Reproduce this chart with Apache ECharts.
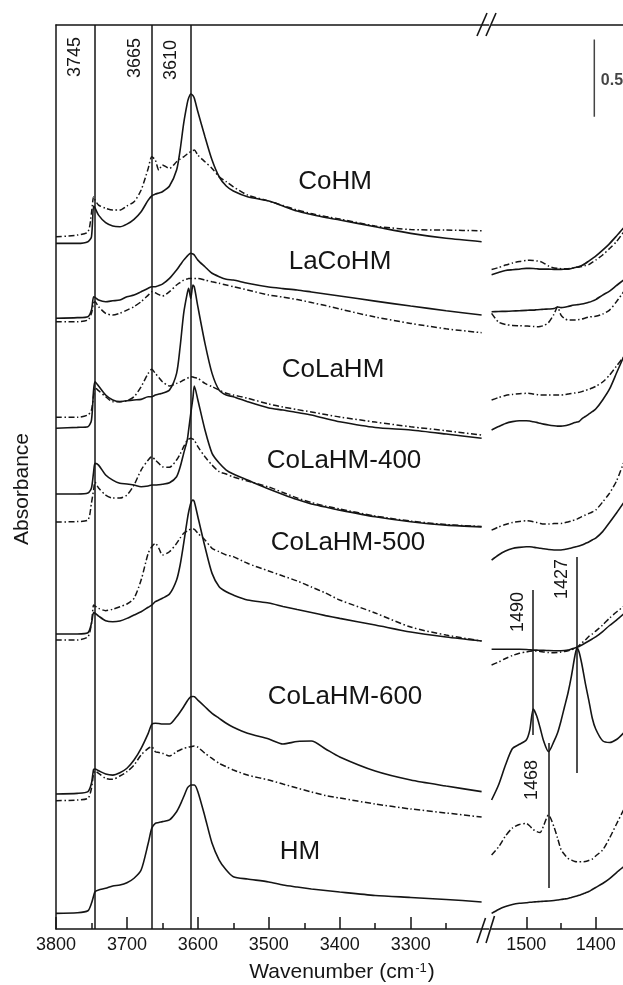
<!DOCTYPE html>
<html>
<head>
<meta charset="utf-8">
<title>IR spectra of Co/La modified mordenites</title>
<script src="https://cdn.jsdelivr.net/npm/echarts@6.0.0/dist/echarts.min.js"></script>
<style>
  html, body { margin: 0; padding: 0; background: #ffffff; }
  #chart { width: 623px; height: 985px; }
</style>
</head>
<body>
<div id="chart"></div>
<script>
// ---- Wavenumber grids (cm-1) of the two spectral windows ----
const ohWavenumbers = [3800, 3770, 3755, 3750, 3747, 3745, 3740, 3730, 3720, 3710,
  3700, 3690, 3680, 3670, 3665, 3660, 3655, 3650, 3640, 3630,
  3625, 3620, 3615, 3613, 3610, 3607, 3605, 3600, 3590, 3580,
  3570, 3560, 3550, 3530, 3500, 3480, 3460, 3440, 3420, 3400,
  3350, 3300, 3250, 3200];
const lowWavenumbers = [1550, 1540, 1530, 1520, 1510, 1500, 1495, 1490, 1485, 1480,
  1475, 1468, 1460, 1455, 1450, 1445, 1440, 1435, 1430, 1427,
  1424, 1420, 1415, 1410, 1405, 1400, 1390, 1380, 1370, 1360];

// ---- Sample names, top to bottom ----
const sampleNames = ['CoHM', 'LaCoHM', 'CoLaHM', 'CoLaHM-400', 'CoLaHM-500', 'CoLaHM-600', 'HM'];

// ---- O-H stretching region: absorbance (offset stack), solid and dash-dot traces ----
const ohCoHM = [4.432, 4.432, 4.443, 4.475, 4.674, 4.661, 4.615, 4.566, 4.544, 4.540,
  4.557, 4.588, 4.637, 4.712, 4.740, 4.751, 4.758, 4.766, 4.803, 4.906,
  5.036, 5.208, 5.337, 5.372, 5.398, 5.388, 5.370, 5.283, 5.122, 4.971,
  4.863, 4.803, 4.771, 4.734, 4.706, 4.674, 4.641, 4.619, 4.599, 4.583,
  4.540, 4.497, 4.465, 4.443];
const ohCoHMDash = [4.475, 4.486, 4.507, 4.628, 4.734, 4.712, 4.680, 4.659, 4.648, 4.648,
  4.674, 4.701, 4.777, 4.917, 4.992, 4.971, 4.906, 4.939, 4.917, 4.960,
  4.977, 4.992, 5.010, 5.016, 5.025, 5.032, 5.036, 5.003, 4.960, 4.917,
  4.863, 4.831, 4.798, 4.745, 4.706, 4.677, 4.648, 4.625, 4.606, 4.590,
  4.544, 4.522, 4.518, 4.514];
const ohLaCoHM = [3.948, 3.952, 3.958, 4.001, 4.087, 4.083, 4.066, 4.055, 4.061, 4.066,
  4.087, 4.098, 4.120, 4.142, 4.152, 4.152, 4.160, 4.169, 4.206, 4.260,
  4.292, 4.324, 4.350, 4.360, 4.368, 4.363, 4.357, 4.324, 4.281, 4.239,
  4.217, 4.200, 4.195, 4.174, 4.150, 4.140, 4.131, 4.118, 4.105, 4.092,
  4.059, 4.027, 3.997, 3.969];
const ohLaCoHMDash = [3.926, 3.926, 3.937, 3.980, 4.047, 4.055, 4.023, 3.980, 3.969, 3.980,
  4.001, 4.023, 4.055, 4.098, 4.120, 4.113, 4.101, 4.092, 4.120, 4.163,
  4.179, 4.195, 4.202, 4.205, 4.206, 4.206, 4.206, 4.206, 4.195, 4.184,
  4.174, 4.163, 4.152, 4.131, 4.098, 4.085, 4.069, 4.050, 4.030, 4.008,
  3.956, 3.915, 3.880, 3.855];
const ohCoLaHM = [3.237, 3.243, 3.247, 3.290, 3.484, 3.538, 3.510, 3.452, 3.420, 3.409,
  3.415, 3.420, 3.424, 3.441, 3.441, 3.452, 3.458, 3.463, 3.484, 3.592,
  3.764, 3.980, 4.109, 4.142, 4.077, 4.163, 4.150, 4.023, 3.786, 3.592,
  3.484, 3.452, 3.441, 3.409, 3.368, 3.355, 3.339, 3.323, 3.300, 3.279,
  3.242, 3.226, 3.200, 3.172];
const ohCoLaHMDash = [3.308, 3.308, 3.323, 3.355, 3.450, 3.500, 3.480, 3.441, 3.409, 3.409,
  3.415, 3.441, 3.506, 3.592, 3.618, 3.592, 3.565, 3.538, 3.510, 3.527,
  3.536, 3.549, 3.560, 3.565, 3.570, 3.568, 3.565, 3.560, 3.527, 3.506,
  3.484, 3.463, 3.452, 3.431, 3.394, 3.374, 3.358, 3.342, 3.326, 3.310,
  3.277, 3.247, 3.221, 3.193];
const ohCoLaHM400 = [2.812, 2.812, 2.818, 2.851, 2.954, 3.010, 2.999, 2.935, 2.902, 2.881,
  2.877, 2.870, 2.859, 2.864, 2.870, 2.870, 2.872, 2.875, 2.885, 2.924,
  2.986, 3.075, 3.161, 3.226, 3.334, 3.432, 3.510, 3.420, 3.226, 3.075,
  3.012, 2.967, 2.941, 2.902, 2.844, 2.809, 2.776, 2.747, 2.728, 2.708,
  2.665, 2.633, 2.611, 2.599];
const ohCoLaHM400Dash = [2.631, 2.634, 2.644, 2.754, 2.838, 2.889, 2.851, 2.805, 2.786, 2.786,
  2.805, 2.870, 2.967, 3.032, 3.053, 3.032, 3.010, 2.988, 2.985, 3.032,
  3.070, 3.118, 3.161, 3.167, 3.172, 3.167, 3.161, 3.118, 3.053, 2.999,
  2.956, 2.941, 2.922, 2.896, 2.857, 2.822, 2.786, 2.757, 2.734, 2.715,
  2.670, 2.637, 2.615, 2.602];
const ohCoLaHM500 = [1.907, 1.907, 1.915, 1.976, 2.045, 2.041, 2.023, 1.993, 1.986, 1.991,
  2.008, 2.030, 2.051, 2.080, 2.094, 2.116, 2.127, 2.138, 2.165, 2.256,
  2.353, 2.493, 2.644, 2.696, 2.752, 2.773, 2.762, 2.665, 2.471, 2.299,
  2.213, 2.180, 2.159, 2.127, 2.107, 2.085, 2.065, 2.046, 2.026, 2.008,
  1.965, 1.920, 1.888, 1.862];
const ohCoLaHM500Dash = [1.868, 1.868, 1.889, 1.976, 2.094, 2.088, 2.073, 2.058, 2.067, 2.083,
  2.101, 2.138, 2.256, 2.429, 2.471, 2.493, 2.461, 2.418, 2.439, 2.493,
  2.527, 2.558, 2.573, 2.579, 2.584, 2.586, 2.584, 2.558, 2.515, 2.461,
  2.439, 2.418, 2.407, 2.364, 2.314, 2.282, 2.250, 2.211, 2.172, 2.127,
  2.043, 1.952, 1.900, 1.862];
const ohCoLaHM600 = [0.873, 0.877, 0.888, 0.942, 1.032, 1.034, 1.023, 1.002, 0.995, 1.010,
  1.039, 1.092, 1.168, 1.265, 1.323, 1.330, 1.328, 1.325, 1.325, 1.372,
  1.403, 1.437, 1.474, 1.487, 1.502, 1.503, 1.502, 1.480, 1.437, 1.394,
  1.362, 1.330, 1.304, 1.265, 1.228, 1.196, 1.212, 1.215, 1.164, 1.112,
  1.021, 0.963, 0.924, 0.888];
const ohCoLaHM600Dash = [0.829, 0.834, 0.845, 0.909, 1.006, 1.021, 1.006, 0.974, 0.968, 0.989,
  1.017, 1.060, 1.125, 1.168, 1.178, 1.146, 1.141, 1.136, 1.118, 1.146,
  1.157, 1.168, 1.173, 1.176, 1.178, 1.182, 1.183, 1.175, 1.136, 1.103,
  1.071, 1.049, 1.028, 0.995, 0.963, 0.937, 0.911, 0.886, 0.863, 0.847,
  0.808, 0.776, 0.750, 0.724];
const ohHM = [0.101, 0.105, 0.118, 0.166, 0.213, 0.241, 0.252, 0.263, 0.278, 0.284,
  0.299, 0.328, 0.381, 0.554, 0.651, 0.683, 0.688, 0.694, 0.705, 0.758,
  0.802, 0.855, 0.910, 0.921, 0.931, 0.931, 0.931, 0.888, 0.726, 0.554,
  0.446, 0.381, 0.338, 0.323, 0.304, 0.284, 0.271, 0.259, 0.249, 0.239,
  0.217, 0.204, 0.191, 0.175];

// ---- 1550-1360 cm-1 region: absorbance (offset stack) ----
const lowCoHM = [4.230, 4.244, 4.257, 4.262, 4.266, 4.271, 4.271, 4.270, 4.268, 4.266,
  4.266, 4.266, 4.264, 4.264, 4.264, 4.265, 4.266, 4.270, 4.276, 4.279,
  4.282, 4.289, 4.302, 4.318, 4.334, 4.350, 4.389, 4.431, 4.480, 4.531];
const lowCoHMDash = [4.264, 4.276, 4.292, 4.305, 4.315, 4.322, 4.323, 4.322, 4.319, 4.315,
  4.305, 4.286, 4.273, 4.271, 4.269, 4.269, 4.269, 4.271, 4.276, 4.278,
  4.279, 4.282, 4.289, 4.295, 4.310, 4.324, 4.357, 4.399, 4.444, 4.505];
const lowLaCoHM = [3.990, 3.992, 3.993, 3.995, 3.997, 3.999, 4.001, 4.001, 4.003, 4.005,
  4.006, 4.008, 4.011, 4.021, 4.017, 4.019, 4.024, 4.030, 4.034, 4.036,
  4.037, 4.040, 4.045, 4.051, 4.059, 4.069, 4.098, 4.124, 4.160, 4.195];
const lowLaCoHMDash = [3.980, 3.924, 3.908, 3.902, 3.900, 3.898, 3.897, 3.895, 3.893, 3.895,
  3.901, 3.920, 3.975, 4.021, 3.969, 3.946, 3.937, 3.937, 3.937, 3.937,
  3.940, 3.943, 3.950, 3.956, 3.959, 3.961, 3.975, 4.001, 4.056, 4.118];
const lowCoLaHM = [3.226, 3.248, 3.268, 3.280, 3.286, 3.286, 3.284, 3.279, 3.275, 3.269,
  3.264, 3.258, 3.253, 3.251, 3.251, 3.253, 3.258, 3.266, 3.274, 3.277,
  3.281, 3.297, 3.313, 3.329, 3.344, 3.361, 3.420, 3.491, 3.594, 3.697];
const lowCoLaHMDash = [3.420, 3.436, 3.449, 3.456, 3.460, 3.463, 3.462, 3.458, 3.455, 3.452,
  3.452, 3.452, 3.452, 3.452, 3.452, 3.455, 3.458, 3.462, 3.465, 3.467,
  3.469, 3.474, 3.481, 3.489, 3.497, 3.508, 3.536, 3.581, 3.639, 3.697];
const lowCoLaHM400 = [2.385, 2.418, 2.443, 2.460, 2.467, 2.471, 2.471, 2.468, 2.465, 2.461,
  2.458, 2.453, 2.450, 2.450, 2.450, 2.453, 2.458, 2.463, 2.469, 2.473,
  2.476, 2.482, 2.492, 2.502, 2.515, 2.527, 2.569, 2.628, 2.689, 2.754];
const lowCoLaHM400Dash = [2.579, 2.599, 2.615, 2.628, 2.635, 2.639, 2.637, 2.633, 2.628, 2.622,
  2.618, 2.618, 2.621, 2.622, 2.622, 2.626, 2.631, 2.637, 2.646, 2.650,
  2.657, 2.666, 2.676, 2.686, 2.696, 2.708, 2.760, 2.818, 2.896, 3.012];
const lowCoLaHM500 = [1.808, 1.808, 1.808, 1.808, 1.808, 1.807, 1.805, 1.803, 1.803, 1.802,
  1.802, 1.800, 1.799, 1.799, 1.799, 1.800, 1.803, 1.810, 1.816, 1.821,
  1.826, 1.836, 1.849, 1.862, 1.875, 1.888, 1.923, 1.962, 1.997, 2.036];
const lowCoLaHM500Dash = [1.707, 1.726, 1.749, 1.768, 1.782, 1.791, 1.795, 1.797, 1.797, 1.794,
  1.791, 1.787, 1.786, 1.787, 1.791, 1.794, 1.799, 1.805, 1.814, 1.821,
  1.833, 1.849, 1.868, 1.891, 1.907, 1.926, 1.965, 2.010, 2.049, 2.085];
const lowCoLaHM600 = [0.834, 0.931, 1.060, 1.167, 1.194, 1.222, 1.286, 1.422, 1.377, 1.299,
  1.215, 1.146, 1.215, 1.267, 1.345, 1.435, 1.524, 1.635, 1.765, 1.816,
  1.791, 1.713, 1.590, 1.480, 1.364, 1.293, 1.217, 1.206, 1.225, 1.267];
const lowCoLaHM600Dash = [0.478, 0.530, 0.601, 0.653, 0.676, 0.682, 0.666, 0.643, 0.630, 0.624,
  0.669, 0.737, 0.659, 0.588, 0.514, 0.482, 0.457, 0.446, 0.436, 0.435,
  0.435, 0.435, 0.436, 0.443, 0.452, 0.472, 0.511, 0.588, 0.679, 0.769];
const lowHM = [0.101, 0.126, 0.145, 0.158, 0.166, 0.170, 0.173, 0.175, 0.176, 0.178,
  0.179, 0.181, 0.184, 0.187, 0.191, 0.194, 0.197, 0.204, 0.210, 0.213,
  0.218, 0.224, 0.233, 0.242, 0.255, 0.268, 0.294, 0.326, 0.365, 0.401];

// ---- Marked band positions (cm-1) and tick labels ----
const ohBands = [3745, 3665, 3610];
const lowBands = [1490, 1427, 1468];
const ohTickLabels = [3800, 3700, 3600, 3500, 3400, 3300];
const ohMinorTicks = [3750, 3650, 3550, 3450, 3350, 3250];
const lowTickLabels = [1500, 1400];
const lowMinorTicks = [1450];
const scaleBarSpan = 0.5; // absorbance units

// ---- Layout and style ----
const FONT = '"Liberation Sans", Arial, Helvetica, sans-serif';
const INK = '#151515';
const Y_MAX = 5.844;
const lowBandExtent = { 1490: [1.254, 2.191], 1427: [1.008, 2.405], 1468: [0.265, 1.202] };
const ohBandLabelDist = { 3745: [12, 10.5], 3665: [13, 7.5], 3610: [15, 10.5] };
const lowBandLabelDist = { 1490: [2, 6.5], 1427: [2, 5.5], 1468: [17, 7.5] };
const scaleBarPos = { wn: 1402, base: 5.251 };
const namePositions = [[335, 182], [340, 262], [333, 370], [344, 461], [348, 543], [345, 697], [300, 852]];

const solidLine = { color: INK, width: 1.6, type: 'solid' };
const dashLine = { color: INK, width: 1.5, type: [6, 2.5, 1.5, 2.5] };

const traces = [
  { oh: [ohCoHM, ohCoHMDash], low: [lowCoHM, lowCoHMDash] },
  { oh: [ohLaCoHM, ohLaCoHMDash], low: [lowLaCoHM, lowLaCoHMDash] },
  { oh: [ohCoLaHM, ohCoLaHMDash], low: [lowCoLaHM, lowCoLaHMDash] },
  { oh: [ohCoLaHM400, ohCoLaHM400Dash], low: [lowCoLaHM400, lowCoLaHM400Dash] },
  { oh: [ohCoLaHM500, ohCoLaHM500Dash], low: [lowCoLaHM500, lowCoLaHM500Dash] },
  { oh: [ohCoLaHM600, ohCoLaHM600Dash], low: [lowCoLaHM600, lowCoLaHM600Dash] },
  { oh: [ohHM, null], low: [lowHM, null] }
];

function toPairs(wn, values) { return wn.map((w, i) => [w, values[i]]); }

const series = [];
traces.forEach((t, k) => {
  [0, 1].forEach(j => {
    if (t.oh[j]) {
      series.push({
        type: 'line', name: sampleNames[k] + (j ? ' (dash-dot)' : ''),
        xAxisIndex: 0, yAxisIndex: 0, data: toPairs(ohWavenumbers, t.oh[j]),
        symbol: 'none', smooth: 0.25, silent: true, animation: false,
        lineStyle: j ? dashLine : solidLine, z: 3
      });
    }
    if (t.low[j]) {
      series.push({
        type: 'line', name: sampleNames[k] + (j ? ' (dash-dot)' : ''),
        xAxisIndex: 3, yAxisIndex: 1, data: toPairs(lowWavenumbers, t.low[j]),
        symbol: 'none', smooth: 0.25, silent: true, animation: false,
        lineStyle: j ? dashLine : solidLine, z: 3
      });
    }
  });
});

const bandLabel = { show: true, position: 'insideEndTop', fontSize: 18, fontFamily: FONT, color: INK };

// Full-height reference lines in the O-H window
series.push({
  type: 'line', name: 'oh-bands', xAxisIndex: 0, yAxisIndex: 0, data: [],
  silent: true, animation: false,
  markLine: {
    symbol: 'none', silent: true, animation: false,
    lineStyle: { color: INK, width: 1.5, type: 'solid' },
    label: bandLabel,
    data: ohBands.map(v => ({
      xAxis: v,
      label: Object.assign({}, bandLabel, { formatter: String(v), distance: ohBandLabelDist[v] })
    }))
  }
});

// Short reference lines in the low-wavenumber window
series.push({
  type: 'line', name: 'low-bands', xAxisIndex: 3, yAxisIndex: 1, data: [],
  silent: true, animation: false,
  markLine: {
    symbol: 'none', silent: true, animation: false,
    lineStyle: { color: INK, width: 1.5, type: 'solid' },
    label: bandLabel,
    data: lowBands.map(v => [
      { coord: [v, lowBandExtent[v][0]], name: String(v),
        label: Object.assign({}, bandLabel, { formatter: String(v), distance: lowBandLabelDist[v] }) },
      { coord: [v, lowBandExtent[v][1]], name: String(v) }
    ])
  }
});

// Absorbance scale bar
series.push({
  type: 'line', name: 'scale-bar', xAxisIndex: 3, yAxisIndex: 1,
  data: [[scaleBarPos.wn, scaleBarPos.base], [scaleBarPos.wn, scaleBarPos.base + scaleBarSpan]],
  symbol: 'none', silent: true, animation: false,
  lineStyle: { color: '#444', width: 1.5 }
});
series.push({
  type: 'scatter', name: 'scale-bar-label', xAxisIndex: 3, yAxisIndex: 1,
  data: [[scaleBarPos.wn, scaleBarPos.base + scaleBarSpan / 2]],
  symbolSize: 1, itemStyle: { color: 'rgba(0,0,0,0)' }, silent: true, animation: false,
  label: {
    show: true, position: 'right', distance: 6, offset: [0, 3],
    formatter: scaleBarSpan.toFixed(1), fontSize: 16, fontWeight: 'bold', fontFamily: FONT, color: INK
  }
});

function bottomAxis(grid, min, max, ticks, labels, len) {
  return {
    type: 'value', gridIndex: grid, min: min, max: max, inverse: true, position: 'bottom',
    axisLine: { show: !!labels, onZero: false, lineStyle: { color: INK, width: 1.5 } },
    axisTick: { show: true, inside: true, length: len, customValues: ticks, lineStyle: { color: INK, width: 1.5 } },
    axisLabel: labels ? { show: true, customValues: labels, fontSize: 18, margin: 7, color: INK, fontFamily: FONT,
                          formatter: v => String(v) }
                      : { show: false },
    splitLine: { show: false }
  };
}
function topAxis(grid, min, max) {
  return {
    type: 'value', gridIndex: grid, min: min, max: max, inverse: true, position: 'top',
    axisLine: { show: true, onZero: false, lineStyle: { color: INK, width: 1.5 } },
    axisTick: { show: false }, axisLabel: { show: false }, splitLine: { show: false }
  };
}

const breakMark = (x1, y1, x2, y2) => ({
  type: 'line', silent: true, z: 10,
  shape: { x1: x1, y1: y1, x2: x2, y2: y2 },
  style: { stroke: INK, lineWidth: 1.6 }
});
const textEl = (txt, x, y, size, extra) => ({
  type: 'text', x: x, y: y, silent: true, z: 10,
  style: Object.assign({
    text: txt, font: size + 'px ' + FONT, fill: INK,
    textAlign: 'center', textVerticalAlign: 'middle', align: 'center', verticalAlign: 'middle'
  }, extra || {})
});

const graphic = [
  breakMark(477, 36, 487, 13), breakMark(486, 36, 496, 13),
  breakMark(477, 943, 485.5, 918), breakMark(486, 943, 494.5, 916),
  Object.assign(textEl('Absorbance', 22, 489, 21), { rotation: Math.PI / 2 }),
  {
    type: 'text', x: 342, y: 972, silent: true,
    style: {
      text: '{a|Wavenumber (cm}{s|-1}{a|)}',
      textAlign: 'center', textVerticalAlign: 'middle', align: 'center', verticalAlign: 'middle',
      rich: {
        a: { fontSize: 21, fontFamily: FONT, fill: INK, color: INK },
        s: { fontSize: 13, fontFamily: FONT, fill: INK, color: INK, verticalAlign: 'top', padding: [0, 1, 0, 1] }
      }
    }
  }
].concat(sampleNames.map((n, i) => textEl(n, namePositions[i][0], namePositions[i][1], 26)));

const option = {
  animation: false,
  backgroundColor: '#ffffff',
  textStyle: { fontFamily: FONT },
  grid: [
    { left: 56, top: 25, width: 432.7, height: 904, outerBoundsMode: 'none', containLabel: false },
    { left: 491.6, top: 25, width: 138.8, height: 904, outerBoundsMode: 'none', containLabel: false }
  ],
  xAxis: [
    bottomAxis(0, 3190, 3800, ohTickLabels, ohTickLabels, 12),
    bottomAxis(0, 3190, 3800, ohMinorTicks, null, 6),
    topAxis(0, 3190, 3800),
    bottomAxis(1, 1350, 1550, lowTickLabels, lowTickLabels, 12),
    bottomAxis(1, 1350, 1550, lowMinorTicks, null, 6),
    topAxis(1, 1350, 1550)
  ],
  yAxis: [
    { type: 'value', gridIndex: 0, min: 0, max: Y_MAX,
      axisLine: { show: true, onZero: false, lineStyle: { color: INK, width: 1.5 } },
      axisTick: { show: false }, axisLabel: { show: false }, splitLine: { show: false } },
    { type: 'value', gridIndex: 1, min: 0, max: Y_MAX,
      axisLine: { show: false }, axisTick: { show: false }, axisLabel: { show: false }, splitLine: { show: false } }
  ],
  series: series,
  graphic: graphic
};

const chart = echarts.init(document.getElementById('chart'), null, { renderer: 'canvas' });
chart.setOption(option);
</script>
</body>
</html>
